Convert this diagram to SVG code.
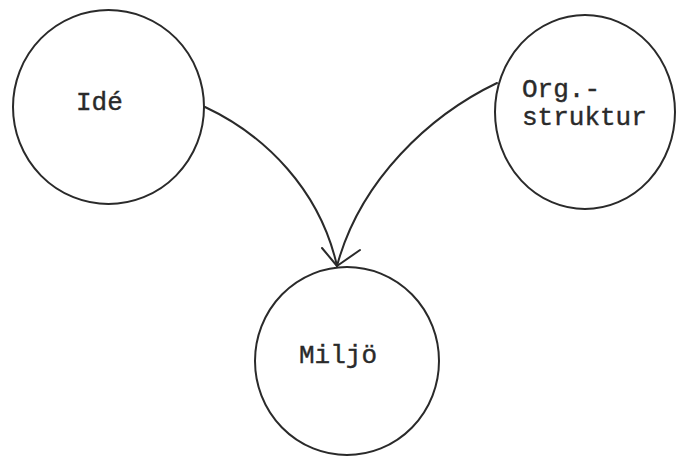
<svg xmlns="http://www.w3.org/2000/svg" width="677" height="456" viewBox="0 0 677 456">
  <style>
    .node { fill: none; stroke: #2a2a2a; stroke-width: 2; }
    .label { font-family: "Liberation Mono", "Courier New", monospace; font-size: 26px; fill: #2a2a2a; stroke: #2a2a2a; stroke-width: 0.4; }
    .edge { fill: none; stroke: #2a2a2a; stroke-width: 2; stroke-linecap: round; stroke-linejoin: round; }
  </style>
  <rect width="677" height="456" fill="#ffffff"/>

  <g id="ide">
    <ellipse class="node" cx="108.5" cy="107" rx="95.5" ry="97"/>
    <text class="label" x="76" y="110">Idé</text>
  </g>

  <g id="org-struktur">
    <ellipse class="node" cx="585" cy="112" rx="90" ry="97"/>
    <text class="label" x="522" y="97">Org.-</text>
    <text class="label" x="522" y="125">struktur</text>
  </g>

  <g id="miljo">
    <ellipse class="node" cx="347" cy="361" rx="92" ry="94"/>
    <text class="label" x="299" y="363">Miljö</text>
  </g>

  <g id="connectors">
    <path class="edge" d="M205,107 C265,135 320,190 337,266"/>
    <path class="edge" d="M497,83 C430,115 360,180 337,266"/>
    <!-- shared open arrowhead where both lines meet -->
    <path class="edge" d="M322,248 L337,266 L360,250"/>
  </g>
</svg>
